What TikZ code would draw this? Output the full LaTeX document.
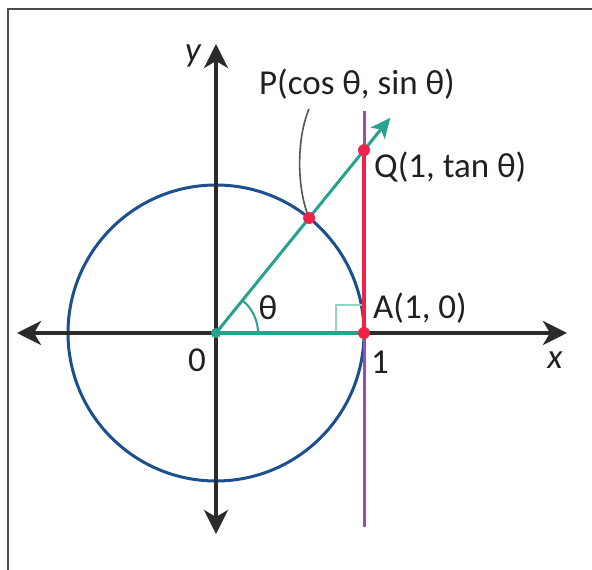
\documentclass[tikz,border=0pt]{standalone}
\usepackage{fontspec}
\setmainfont{Carlito}
\usetikzlibrary{arrows.meta,calc}
\definecolor{axisc}{HTML}{2B2B2B}
\definecolor{circc}{HTML}{1C4F8F}
\definecolor{tealc}{HTML}{26A28E}
\definecolor{redc}{HTML}{EF2348}
\definecolor{purpc}{HTML}{9C4DB5}
\definecolor{markc}{HTML}{8ED6C6}
\definecolor{leadc}{HTML}{555555}
\definecolor{txtc}{HTML}{231F20}
\begin{document}
\begin{tikzpicture}[x=1pt,y=1pt,
  axisline/.style={line width=4pt,draw=axisc,{Stealth[length=24pt,width=24pt,inset=7pt]}-{Stealth[length=24pt,width=24pt,inset=7pt]}},
  lbl/.style={inner sep=0pt,text=txtc,font=\fontsize{35}{40}\selectfont},
  ilbl/.style={lbl,font=\fontsize{35}{40}\selectfont\itshape},
  reddot/.style={circle,fill=redc,inner sep=0pt,minimum size=12pt},
  tealdot/.style={circle,fill=tealc,inner sep=0pt,minimum size=10pt}]
\useasboundingbox (0,0) rectangle (592,570);
% frame
\draw[line width=2pt,draw=axisc!85] (8,0) -- (8,561) -- (592,561);
% coordinates
\coordinate (O) at (216,237);
\coordinate (A) at (364,237);
\coordinate (P) at ($(O)+(51:148)$);
\coordinate (Q) at (364,419.8);
\coordinate (T) at ($(O)+(51:277)$);
\coordinate (xl) at (17,237);
\coordinate (xr) at (567,237);
\coordinate (yb) at (216,36);
\coordinate (yt) at (216,526);
\coordinate (pb) at (364,43);
\coordinate (pt) at (364,459);
% circle
\draw[line width=3pt,circc] (O) circle (148);
% axes
\draw[axisline] (xl) -- (xr);
\draw[axisline] (yb) -- (yt);
% right angle mark
\draw[line width=2pt,markc] (336,237) -- (336,265) -- (364,265);
% angle arc
\draw[line width=2pt,tealc] ($(O)+(42,0)$) arc (0:51:42);
% purple tangent line
\draw[line width=3pt,purpc] (pb) -- (pt);
% red segment
\draw[line width=3.2pt,redc] (A) -- (Q);
% teal
\draw[line width=4.5pt,tealc] (O) -- (A);
\draw[line width=3pt,tealc,-{Stealth[length=20pt,width=18pt,inset=5pt]}] (O) -- (T);
% labels
\node[lbl] (Pl) at (357,486) {P(cos θ, sin θ)};
\node[lbl,anchor=west] (Ql) at (374,403) {Q(1, tan θ)};
\node[lbl,anchor=west] (Al) at (373,262) {A(1, 0)};
\node[lbl] (th) at (268,262) {θ};
\node[lbl] (one) at (380,208) {1};
\node[lbl] (zero) at (197,210) {0};
\node[ilbl] (xlab) at (555,210) {x};
\node[ilbl] (ylab) at (193,514) {y};
% leader
\draw[line width=1.6pt,leadc] (309,461) .. controls (296,430) and (297,380) .. (P);
% dots
\node[tealdot] (Od) at (O) {};
\node[reddot] (Pd) at (P) {};
\node[reddot] (Qd) at (Q) {};
\node[reddot] (Ad) at (A) {};
\end{tikzpicture}
\end{document}
